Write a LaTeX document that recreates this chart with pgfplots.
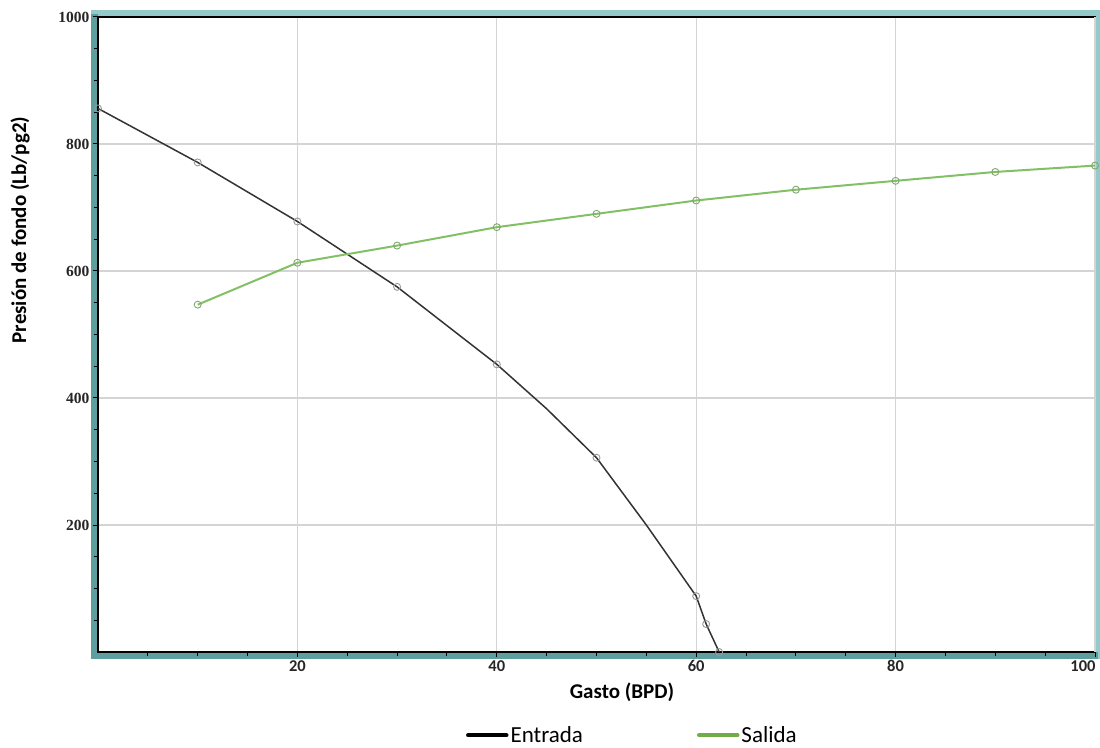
\documentclass[border=0pt]{standalone}
\usepackage{pgfplots}
\pgfplotsset{compat=1.18}
\usepackage{fontspec}
\setmainfont{Carlito}
\newfontfamily\tickserif{Liberation Serif}
\definecolor{frameteal}{HTML}{95CACA}
\definecolor{frametealdk}{HTML}{5E9E9E}
\definecolor{entrada}{HTML}{333333}
\definecolor{salida}{HTML}{82C066}
\definecolor{salidaleg}{HTML}{70AD47}
\definecolor{gridc}{HTML}{D4D4D4}
\begin{document}
\begin{tikzpicture}
\useasboundingbox (-98bp,-96bp) rectangle (1002bp,652bp);
% frame shading
\draw[frameteal, line width=7bp] (-3.5bp,-3.5bp) rectangle (1000.5bp,638.5bp);
\draw[frametealdk, line width=7bp] (-3.5bp,638bp) -- (-3.5bp,-3.5bp) -- (1000bp,-3.5bp);
\begin{axis}[
  at={(0,0)}, anchor=south west,
  scale only axis, width=997bp, height=635bp,
  xmin=0, xmax=100, ymin=0, ymax=1000,
  xtick={20,40,60,80},
  extra x ticks={100},
  extra x tick style={xticklabel style={xshift=-12bp}},
  ytick={200,400,600,800,1000},
  minor xtick={5,10,15,25,30,35,45,50,55,65,70,75,85,90,95},
  minor ytick={50,100,150,250,300,350,450,500,550,650,700,750,850,900,950},
  tick pos=left, tick align=outside,
  major tick length=5bp, minor tick length=4bp,
  every tick/.style={black, line width=1bp},
  xmajorgrids, ymajorgrids,
  major grid style={gridc, line width=1.2bp},
  axis line style={black, line width=2.5bp},
  /pgf/number format/assume math mode=true,
  /pgf/number format/1000 sep={},
  xticklabel style={font=\fontsize{16.5bp}{18bp}\selectfont\bfseries, text=black!85},
  yticklabel style={font=\tickserif\fontsize{15.5bp}{17bp}\selectfont\bfseries, text=black!85},
  legend style={at={(0.536,-0.131)}, anchor=center, draw=none, fill=none,
    font=\fontsize{23bp}{25bp}\selectfont, legend columns=2,
    /tikz/every even column/.append style={column sep=112bp},
    inner sep=0pt},
  legend image code/.code={\draw[#1, line width=4.5bp, line cap=round] (0bp,0bp) -- (38bp,0bp);},
  clip=false,
]
\addplot[entrada, line width=1.5bp, forget plot]
coordinates {(0,856) (10,771) (20,678) (30,575) (40,453) (45,383) (50,306) (55,200) (60,88) (61,44) (62.3,0)};
\addplot[only marks, mark=o, mark size=3.5bp, mark options={draw=gray!80, line width=0.9bp}, forget plot]
coordinates {(0,856) (10,771) (20,678) (30,575) (40,453) (50,306) (60,88) (61,44) (62.3,0)};
\addplot[salida, line width=2bp, mark=o, mark size=3.5bp, mark options={draw=salida!60!gray, line width=0.9bp}, forget plot]
coordinates {(10,547) (20,613) (30,640) (40,669) (50,690) (60,711) (70,728) (80,742) (90,756) (100,766)};
\addlegendimage{black}
\addlegendentry{Entrada}
\addlegendimage{salidaleg}
\addlegendentry{Salida}
\end{axis}
\node[font=\fontsize{21bp}{24bp}\selectfont\bfseries] at (524bp,-40bp) {Gasto (BPD)};
\node[font=\fontsize{21bp}{24bp}\selectfont\bfseries, rotate=90] at (-78bp,422bp) {Presión de fondo (Lb/pg2)};
\end{tikzpicture}
\end{document}
